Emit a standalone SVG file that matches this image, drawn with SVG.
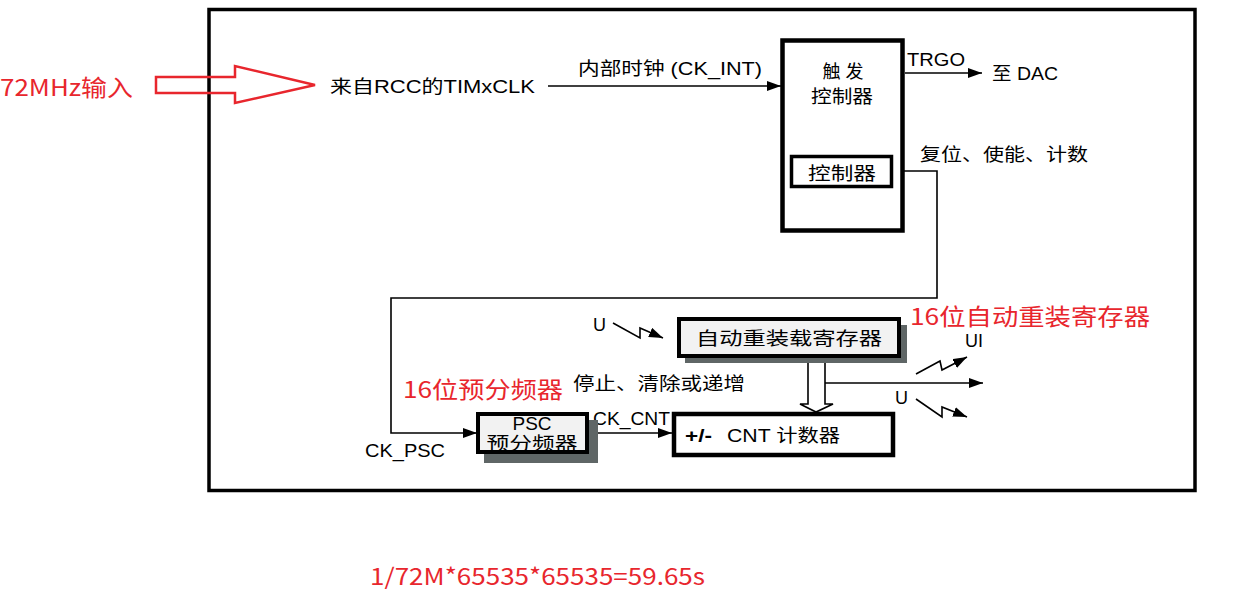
<svg xmlns="http://www.w3.org/2000/svg" width="1237" height="603" viewBox="0 0 1237 603">
<defs>
<marker id="ah" viewBox="0 0 14 10" refX="14" refY="5" markerWidth="14" markerHeight="10" markerUnits="userSpaceOnUse" orient="auto">
<path d="M0,0 L14,5 L0,10 Z" fill="#000"/>
</marker>
<style>
.t{font-family:"Liberation Sans","Noto Sans CJK SC",sans-serif;font-size:18px;fill:#000}
.r{font-family:"Noto Sans CJK SC","Noto Sans",sans-serif;fill:#e8262d}
.ln{stroke:#000;stroke-width:1.6;fill:none}
.box{fill:#fff;stroke:#000;stroke-width:4.5}
.gbox{fill:#f2f2f2;stroke:#000;stroke-width:4}
.sh{fill:#5f6666}
</style>
</defs>
<rect width="1237" height="603" fill="#fff"/>
<g id="frame">
<rect x="209" y="9.5" width="986" height="481" fill="none" stroke="#000" stroke-width="3.5"/>
</g>
<g id="input-arrow">
<path d="M156,77 L235,77 L235,66 L315,85 L235,103 L235,93 L156,93 Z" fill="none" stroke="#e8262d" stroke-width="2.5"/>
<text class="r" x="0" y="96" font-size="23" textLength="133" lengthAdjust="spacingAndGlyphs">72MHz输入</text>
</g>
<g id="connectors">
<line class="ln" x1="548" y1="86" x2="781" y2="86" marker-end="url(#ah)"/>
<line class="ln" x1="905" y1="73" x2="982" y2="73" marker-end="url(#ah)"/>
<polyline class="ln" points="893,171 937,171 937,298 391,298 391,433 477,433" marker-end="url(#ah)"/>
<line class="ln" x1="590" y1="433" x2="672" y2="433" marker-end="url(#ah)"/>
<line class="ln" x1="825" y1="383" x2="983" y2="383" marker-end="url(#ah)"/>
<path class="ln" d="M808,358 L808,404 L800,404 L816,412 L833,404 L825,404 L825,358"/>
<polyline class="ln" points="613,323 640,338 640,328 663,338" marker-end="url(#ah)"/>
<polyline class="ln" points="916,374 940,361 942,370 967,357" marker-end="url(#ah)"/>
<polyline class="ln" points="916,399 942,417 942,407 967,417" marker-end="url(#ah)"/>
</g>
<g id="labels">
<text class="t" x="330" y="93" textLength="205" lengthAdjust="spacingAndGlyphs">来自RCC的TIMxCLK</text>
<text class="t" x="578" y="75" textLength="184" lengthAdjust="spacingAndGlyphs">内部时钟 (CK_INT)</text>
<text class="t" x="907" y="66" font-size="17" textLength="58" lengthAdjust="spacingAndGlyphs">TRGO</text>
<text class="t" x="992" y="80" textLength="66" lengthAdjust="spacingAndGlyphs">至 DAC</text>
<text class="t" x="920" y="161" font-size="19" textLength="168" lengthAdjust="spacingAndGlyphs">复位、使能、计数</text>
<text class="t" x="573" y="390" textLength="172" lengthAdjust="spacingAndGlyphs">停止、清除或递增</text>
<text class="t" x="593" y="425" textLength="77" lengthAdjust="spacingAndGlyphs">CK_CNT</text>
<text class="t" x="365" y="457" textLength="80" lengthAdjust="spacingAndGlyphs">CK_PSC</text>
<text class="t" x="593" y="331" font-size="19">U</text>
<text class="t" x="965" y="347" font-size="19">UI</text>
<text class="t" x="895" y="404" font-size="19">U</text>
</g>
<g id="trigger-controller">
<rect class="box" x="782.5" y="40.5" width="120" height="190"/>
<text class="t" x="843" y="78" font-size="20" text-anchor="middle">触 发</text>
<text class="t" x="842" y="103" font-size="20" text-anchor="middle" textLength="62" lengthAdjust="spacingAndGlyphs">控制器</text>
</g>
<g id="controller">
<rect x="791.5" y="156.5" width="100" height="30" fill="#fff" stroke="#000" stroke-width="3.5"/>
<text class="t" x="842" y="180" font-size="20" text-anchor="middle" textLength="68" lengthAdjust="spacingAndGlyphs">控制器</text>
</g>
<g id="auto-reload">
<rect class="sh" x="685" y="325" width="222" height="38"/>
<rect class="gbox" x="679" y="319" width="220" height="37"/>
<text class="t" x="789" y="345" font-size="19" text-anchor="middle" textLength="186" lengthAdjust="spacingAndGlyphs">自动重装载寄存器</text>
</g>
<g id="psc">
<rect class="sh" x="484" y="420" width="114" height="43"/>
<rect class="gbox" x="478" y="414" width="109" height="38"/>
<text class="t" x="532" y="430" text-anchor="middle" textLength="39" lengthAdjust="spacingAndGlyphs">PSC</text>
<text class="t" x="532" y="450" font-size="19" text-anchor="middle" textLength="91" lengthAdjust="spacingAndGlyphs">预分频器</text>
</g>
<g id="cnt">
<rect class="box" x="674" y="414" width="219" height="41"/>
<text class="t" x="685" y="442" font-size="19" font-weight="bold" textLength="27" lengthAdjust="spacingAndGlyphs">+/-</text>
<text class="t" x="727" y="442" font-size="19" textLength="113" lengthAdjust="spacingAndGlyphs">CNT 计数器</text>
</g>
<g id="annotations">
<text class="r" x="403" y="398" font-size="23" textLength="160" lengthAdjust="spacingAndGlyphs">16位预分频器</text>
<text class="r" x="910" y="325" font-size="23" textLength="240" lengthAdjust="spacingAndGlyphs">16位自动重装寄存器</text>
<text class="r" x="370" y="585" font-size="23" textLength="335" lengthAdjust="spacingAndGlyphs">1/72M*65535*65535=59.65s</text>
</g>
</svg>
